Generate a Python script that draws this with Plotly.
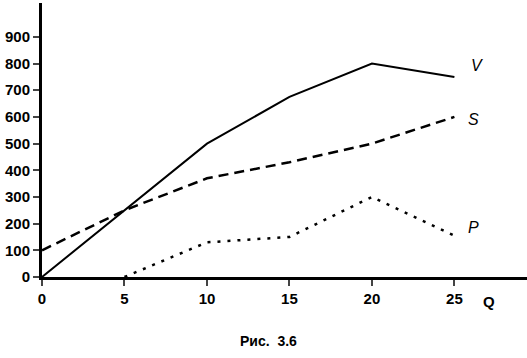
import plotly.graph_objects as go

q = [0, 5, 10, 15, 20, 25]
v_vals = [0, 250, 500, 675, 800, 750]
s_vals = [100, 250, 370, 430, 500, 600]
p_q = [5, 10, 15, 20, 25]
p_vals = [0, 130, 150, 300, 155]
y_ticks = [0, 100, 200, 300, 400, 500, 600, 700, 800, 900]
x_ticks = [0, 5, 10, 15, 20, 25]

fig = go.Figure()
fig.add_trace(go.Scatter(x=q, y=v_vals, mode="lines", line=dict(color="black", width=2), name="V"))
fig.add_trace(go.Scatter(x=q, y=s_vals, mode="lines", line=dict(color="black", width=2.5, dash="10px,6px"), name="S"))
fig.add_trace(go.Scatter(x=p_q, y=p_vals, mode="lines", line=dict(color="black", width=2.5, dash="3px,7px"), name="P"))

tick_font = dict(family="Liberation Sans, Arial", size=15, color="black")

fig.update_layout(
    width=527, height=358,
    margin=dict(l=42, r=0, t=3, b=81),
    paper_bgcolor="white", plot_bgcolor="white",
    showlegend=False,
    font=tick_font,
    xaxis=dict(range=[0, 29.4], tickvals=x_ticks, ticktext=[f"<b>{t}</b>" for t in x_ticks],
               ticks="outside", ticklen=6, tickwidth=2,
               showline=True, linecolor="black", linewidth=3, showgrid=False, zeroline=False,
               tickfont=tick_font),
    yaxis=dict(range=[0, 1027], tickvals=y_ticks, ticktext=[f"<b>{t}</b>" for t in y_ticks],
               ticks="outside", ticklen=6, tickwidth=2,
               showline=True, linecolor="black", linewidth=3, showgrid=False, zeroline=False,
               tickfont=tick_font),
)

labels = [("V", 25.9, 791), ("S", 25.7, 592), ("P", 25.7, 184)]
for txt, xx, yy in labels:
    fig.add_annotation(x=xx, y=yy, text=f"<i>{txt}</i>", showarrow=False, xanchor="left",
                       font=dict(family="Liberation Sans, Arial", size=16, color="black"))
fig.add_annotation(x=26.6, y=0, text="<b>Q</b>", showarrow=False, xanchor="left", yshift=-24,
                   font=dict(family="Liberation Sans, Arial", size=15, color="black"))
fig.add_annotation(xref="paper", yref="paper", x=0.468, y=-0.233, yanchor="middle",
                   text="<b>Рис.  3.6</b>",
                   showarrow=False, font=dict(family="Liberation Sans, Arial", size=14, color="black"))

fig.write_html("out.html", config={"displayModeBar": False},
               post_script="document.body.style.margin='0';")
